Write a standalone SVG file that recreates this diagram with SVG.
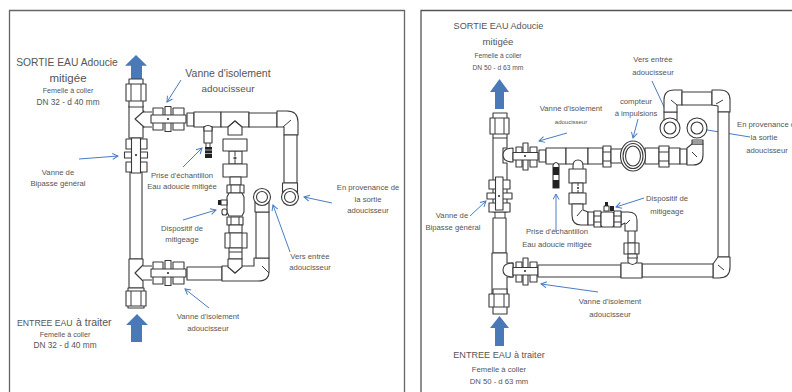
<svg xmlns="http://www.w3.org/2000/svg" width="792" height="392" viewBox="0 0 792 392">
<style>
.p{fill:#fff;stroke:#3a3a3a;stroke-width:1.1;stroke-linejoin:round}
.l{fill:none;stroke:#3a3a3a;stroke-width:1;stroke-linejoin:round}
.k{fill:#222;stroke:none}
.b{fill:#4a79b8;stroke:none}
.a{fill:none;stroke:#4a7cc4;stroke-width:1;marker-end:url(#ah)}
text{font-family:"Liberation Sans",Arial,sans-serif;fill:#555;text-anchor:middle}
.f7{font-size:7.2px}.f8{font-size:7.7px}.f83{font-size:8.3px}.f9{font-size:9.1px}.f10{font-size:10.3px}.f115{font-size:11.5px}.f66{font-size:6.7px}
</style>
<defs>
<marker id="ah" markerWidth="8" markerHeight="8" refX="6.5" refY="3.5" orient="auto" markerUnits="userSpaceOnUse"><path d="M1 0.5L6.5 3.5L1 6.5" fill="none" stroke="#4a7cc4" stroke-width="1"/></marker>
<g id="vL"><rect class="p" x="-15" y="-11" width="10" height="22"/><rect class="p" x="-3" y="-12.500" width="6" height="25"/><rect class="p" x="5" y="-11" width="11" height="22"/><rect class="p" x="-17" y="-4" width="35" height="8"/><circle class="k" r="1"/></g>
<g id="vR"><rect class="p" x="-9" y="-9" width="6" height="20"/><rect class="p" x="-2" y="-13" width="5" height="27"/><rect class="p" x="5" y="-9" width="7" height="20"/><rect class="p" x="-12" y="-3.500" width="25" height="7.500"/><circle class="k" r="1"/></g>
<g id="sock"><rect class="p" x="-7" y="-5" width="14" height="28"/><rect class="p" x="-10" y="0" width="20" height="17"/><path class="l" d="M-5 0V17M5 0V17"/></g>
</defs>
<g id="frames" fill="none">
<path d="M9.500 392V10.500H404.500V392" stroke="#666" stroke-width="1.300"/>
<path d="M421 392V10.500H792" stroke="#555" stroke-width="1.300"/>
</g>
<g id="connectors">
<path class="a" d="M181 80L167 102"/>
<path class="a" d="M79 159L118 156"/>
<path class="a" d="M183 167L202 148"/>
<path class="a" d="M183 220L216 210"/>
<path class="a" d="M209 308L185 289"/>
<path class="a" d="M290 252L273 205"/>
<path class="a" d="M332 203L304 197"/>
<path class="a" d="M567 133L539 141"/>
<path class="a" d="M638 119L633 138"/>
<path class="a" d="M652 81L672 124"/>
<path class="a" d="M750 137L701 129"/>
<path class="a" d="M644 198L616 207"/>
<path class="a" d="M556 232L556 194"/>
<path class="a" d="M470 216L486 201"/>
<path class="a" d="M598 292L541 284"/>
</g>
<g id="flow-arrows">
<path class="b" d="M136 55L147 65.700H142V83H131V65.700H125Z"/>
<path class="b" d="M137 314L148 325H142V342H131V325H126Z"/>
<path class="b" d="M499.500 79L509 92H504V109H495V92H490Z"/>
<path class="b" d="M499.500 316L509 328H504V346H495V328H490Z"/>
</g>
<g id="installation-left">
<path class="p" d="M130 172H142V259H130Z"/>
<path class="p" d="M129 106H143V111H144L135 119L144 127H143V138H129Z"/>
<path class="p" d="M129 259H143V265L135 273L143 281V288H129Z"/>
<use href="#sock" x="136" y="84"/>
<rect class="p" x="128" y="288" width="16" height="20"/><rect class="p" x="126" y="291" width="20" height="15"/><path class="l" d="M131 291V306M141 291V306"/>
<g id="bypass-left"><rect class="p" x="126" y="139" width="21" height="10"/><rect class="p" x="124.500" y="152" width="23" height="6"/><rect class="p" x="126" y="162" width="21" height="10"/><rect class="p" x="131.500" y="138" width="9" height="35"/><circle class="k" cx="136" cy="155" r="1"/></g>
<path class="l" d="M143 112L152 112M143 127L152 127M143 266L152 266M143 280L152 280"/>
<use href="#vL" x="168" y="119"/>
<use href="#vL" x="168" y="273"/>
<rect class="p" x="187" y="113" width="7" height="13"/>
<rect class="p" x="194" y="112" width="27" height="15"/>
<path class="p" d="M221 112H249V127H242L235 121L228 127H221Z"/>
<rect class="p" x="249" y="113" width="28" height="14"/>
<path class="p" d="M277 111H287Q298 111 298 122V135H284V127L277 127Z"/>
<path class="l" d="M283 127L291 120"/>
<rect class="p" x="284" y="135" width="13" height="48"/>
<rect class="p" x="282.500" y="183" width="15" height="14"/>
<circle class="p" cx="290" cy="197" r="8.500"/><circle class="p" cx="290" cy="197" r="5.500"/>
<path class="p" d="M204 127H212V143H204Z"/><path class="p" d="M204 127Q208 124 212 127V131H204Z"/>
<rect class="k" x="205" y="147" width="7" height="11"/><path class="l" d="M206 143V147M210 143V147"/><path d="M205 150H212M205 153.500H212" stroke="#ccc" stroke-width=".8"/>
<path class="p" d="M228 127L235 121L242 127V135H228Z"/>
<rect class="p" x="229" y="151" width="13" height="13"/><circle class="p" cx="235" cy="158" r="1"/><path class="l" d="M235 151V156M235 160V164"/>
<rect class="p" x="223" y="139" width="24" height="12"/>
<rect class="p" x="223" y="164" width="24" height="13"/>
<rect class="p" x="230" y="177" width="11" height="8"/>
<rect class="p" x="227" y="185" width="17" height="8"/><path class="l" d="M231 185V193M240 185V193"/>
<path class="p" d="M229 193H242L244 197V212L242 216H229L227 212V197Z"/>
<rect class="p" x="221" y="200" width="6" height="5"/><rect class="k" x="218" y="200" width="3" height="5"/><rect class="p" x="222" y="209" width="5" height="6" rx="2"/>
<rect class="p" x="227" y="217" width="16" height="8"/><path class="l" d="M231 217V225M239 217V225"/>
<rect class="p" x="229" y="225" width="13" height="8"/>
<rect class="p" x="225" y="233" width="22" height="15"/><path class="l" d="M230 233V248M242 233V248"/>
<rect class="p" x="229" y="248" width="13" height="11"/><path class="l" d="M229 252H242"/>
<path class="p" d="M187 267H222V280H187Z"/>
<path class="p" d="M222 266H228L235 273L242 266H254V258H269V270Q270 281 258 281H222Z"/>
<path class="p" d="M228 259H242V267L235 273L228 267Z"/>
<path class="l" d="M262 266L269 273"/>
<path class="p" d="M256 212H269V258H256Z"/>
<rect class="p" x="255" y="197" width="14" height="15"/>
<circle class="p" cx="262" cy="197" r="8.500"/><circle class="p" cx="262" cy="197" r="5.500"/>
</g>
<g id="installation-right">
<path class="p" d="M493 113H507V148H503V163H507V212H493Z"/>
<rect class="p" x="490" y="118" width="19" height="16"/><path class="l" d="M495 118V134M504 118V134M493 138H507"/>
<path class="p" d="M513 148Q503 148 503 155Q503 162 513 162Z"/>
<g id="bypass-right"><rect class="p" x="489" y="180" width="21" height="9"/><rect class="p" x="487" y="193" width="25" height="6"/><rect class="p" x="489" y="203" width="21" height="9"/><rect class="p" x="495.500" y="177" width="7.500" height="33"/><circle class="k" cx="499" cy="196" r="1"/></g>
<path class="p" d="M493 218H506V253H493Z"/><path class="l" d="M495 212V218M505 212V218"/>
<path class="p" d="M492 253H507V263H513V277H507V294H492Z"/>
<path class="p" d="M513 263Q503 263 503 270Q503 277 513 277Z"/>
<rect class="p" x="493" y="289" width="14" height="25"/><rect class="p" x="489" y="294" width="20" height="13"/><path class="l" d="M494 294V307M504 294V307"/>
<use href="#vR" x="525" y="156"/>
<use href="#vR" x="525" y="271"/>
<rect class="p" x="539" y="150" width="7" height="12"/>
<rect class="p" x="546" y="148" width="20" height="16"/>
<rect class="p" x="566" y="148" width="22" height="16"/>
<rect class="p" x="588" y="148" width="15" height="16"/>
<rect class="p" x="603" y="146" width="8" height="21"/><path class="l" d="M603 152H611M603 161H611"/>
<rect class="p" x="611" y="149" width="12" height="14"/>
<rect class="p" x="645" y="148" width="14" height="16"/>
<rect class="p" x="659" y="146" width="10" height="21"/><path class="l" d="M659 152H669M659 161H669"/>
<rect class="p" x="669" y="148" width="11" height="16"/>
<rect class="p" x="680" y="149" width="7" height="15"/>
<ellipse class="p" cx="633" cy="156" rx="12.500" ry="15"/><ellipse class="p" cx="633" cy="156" rx="10" ry="12.500"/><ellipse class="p" cx="633" cy="156" rx="7.500" ry="10"/>
<path class="p" d="M687 148L692 144H703V155Q703 165 693 165H687Z"/>
<path class="l" d="M692 152L697 157"/>
<path class="p" d="M692 140H703V144H692Z"/><path class="l" d="M692 142H703"/>
<circle class="p" cx="697" cy="128" r="10"/><circle class="p" cx="697" cy="128" r="6"/>
<rect class="p" x="664" y="112" width="13" height="8"/>
<circle class="p" cx="670" cy="128" r="10"/><circle class="p" cx="670" cy="128" r="6"/>
<path class="p" d="M664 112V100Q664 90 674 90H682V105H677V112Z"/>
<path class="l" d="M671 100L677 105"/>
<rect class="p" x="682" y="92" width="30" height="13"/>
<path class="p" d="M712 90H720Q730 90 730 100V112H718V106L712 105Z"/>
<path class="l" d="M716 104L723 100"/>
<rect class="p" x="718" y="112" width="11" height="145"/>
<path class="p" d="M713 264L718 257H730V267Q730 278 719 278H713Z"/>
<path class="l" d="M718 265L724 270"/>
<rect class="p" x="538" y="265" width="83" height="12"/>
<rect class="p" x="642" y="264" width="71" height="13"/>
<rect class="p" x="621" y="263" width="21" height="15"/>
<path class="p" d="M628 257H637V262Q632.500 267 628 262Z"/>
<rect class="p" x="628" y="230" width="7" height="13"/>
<rect class="p" x="624" y="243" width="15" height="11"/><path class="l" d="M628 243V254M635 243V254"/>
<rect class="p" x="628" y="254" width="9" height="4"/>
<path class="p" d="M621 212H628Q637 212 637 220V231H625V223L621 225Z"/><path class="l" d="M626 224L630 220"/>
<path class="p" d="M573 172V166Q573 160 578 160Q583 160 583 166V172Z"/>
<rect class="p" x="569" y="169" width="17" height="14"/>
<rect class="p" x="572" y="183" width="11" height="10"/><path class="l" d="M578 183V186M578 190V193"/><circle class="k" cx="578" cy="188" r="1"/>
<rect class="p" x="569" y="193" width="17" height="11"/>
<path class="p" d="M572 204H583V210L588 212V225H581Q572 225 572 215Z"/><path class="l" d="M577 216L582 210"/>
<rect class="p" x="588" y="212" width="6" height="13"/>
<rect class="p" x="594" y="211" width="7" height="16"/><path class="l" d="M594 216H601M594 222H601"/>
<rect class="p" x="601" y="212" width="13" height="15" rx="2"/>
<rect class="p" x="614" y="211" width="7" height="16"/><path class="l" d="M614 216H621M614 222H621"/>
<rect class="p" x="604" y="206" width="5" height="5"/><rect class="k" x="605" y="202" width="3" height="4"/><rect class="k" x="610" y="206" width="4" height="5"/>
<path class="p" d="M553 165Q556 160 559 165V188H553Z"/>
<rect class="k" x="553" y="167" width="6" height="8"/><rect class="k" x="553" y="180" width="6" height="8"/>
</g>
<g id="labels-left">
<text class="f10" x="67" y="66">SORTIE EAU Adoucie</text>
<text class="f115" x="68" y="82">mitigée</text>
<text class="f7" x="68" y="92.700">Femelle à coller</text>
<text class="f83" x="68" y="104.500">DN 32 - d 40 mm</text>
<text style="font-size:10.500px" x="228" y="76.500">Vanne d'isolement</text>
<text style="font-size:9.800px" x="228" y="91.500">adoucisseur</text>
<text class="f8" x="58" y="175">Vanne de</text>
<text class="f8" x="58" y="186">Bipasse général</text>
<text class="f8" x="182" y="177.700">Prise d'échantillon</text>
<text class="f8" x="182" y="189">Eau adoucie mitigée</text>
<text class="f8" x="182" y="230.700">Dispositif de</text>
<text class="f8" x="182" y="241.700">mitigeage</text>
<text class="f8" x="208" y="319">Vanne d'isolement</text>
<text class="f8" x="208" y="330.700">adoucisseur</text>
<text class="f8" x="310" y="259">Vers entrée</text>
<text class="f8" x="310" y="270">adoucisseur</text>
<text class="f8" x="368" y="190">En provenance de</text>
<text class="f8" x="368" y="202">la sortie</text>
<text class="f8" x="368" y="213">adoucisseur</text>
<text x="17" y="326" style="text-anchor:start;font-size:8.700px">ENTREE EAU<tspan x="76" style="font-size:10.500px">à traiter</tspan></text>
<text class="f7" x="65" y="337">Femelle à coller</text>
<text class="f83" x="65" y="348">DN 32 - d 40 mm</text>
</g>
<g id="labels-right">
<text class="f9" x="498.500" y="29">SORTIE EAU Adoucie</text>
<text style="font-size:9.600px" x="498" y="45">mitigée</text>
<text class="f66" x="498" y="57.500">Femelle à coller</text>
<text class="f66" x="498" y="69.500">DN 50 - d 63 mm</text>
<text class="f8" x="571" y="111">Vanne d'isolement</text>
<text style="font-size:6px" x="571" y="124">adoucisseur</text>
<text class="f8" x="653" y="62">Vers entrée</text>
<text class="f8" x="653" y="74.700">adoucisseur</text>
<text class="f8" x="636" y="104">compteur</text>
<text class="f8" x="636" y="116">à impulsions</text>
<text class="f8" x="737" y="127" style="text-anchor:start">En provenance de</text>
<text class="f8" x="764" y="140">la sortie</text>
<text class="f8" x="767" y="153">adoucisseur</text>
<text class="f8" x="667" y="201">Dispositif de</text>
<text class="f8" x="667" y="214">mitigeage</text>
<text class="f8" x="557" y="234">Prise d'échantillon</text>
<text class="f8" x="557" y="246.700">Eau adoucie mitigée</text>
<text class="f8" x="452" y="218">Vanne de</text>
<text class="f8" x="453" y="230">Bipasse général</text>
<text class="f8" x="610" y="304">Vanne d'isolement</text>
<text class="f8" x="610" y="316.700">adoucisseur</text>
<text class="f9" x="499" y="358">ENTREE EAU à traiter</text>
<text class="f8" x="499" y="371.700">Femelle à coller</text>
<text class="f8" x="499" y="384">DN 50 - d 63 mm</text>
</g>
</svg>
